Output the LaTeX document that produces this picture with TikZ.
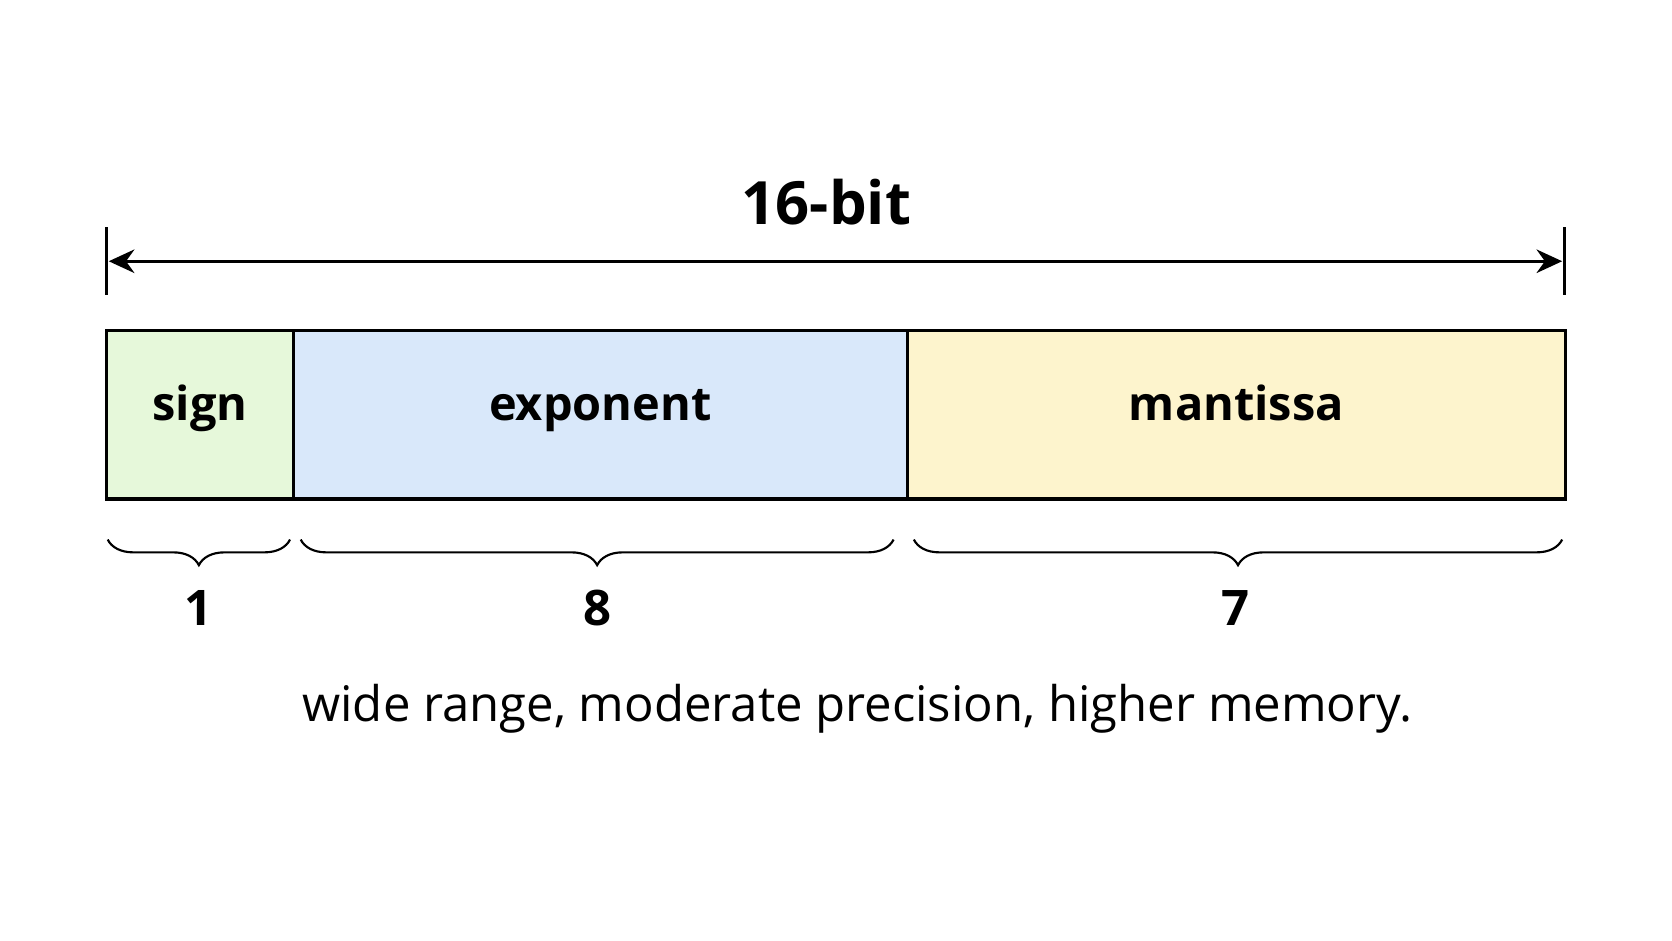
\documentclass[tikz,border=0pt]{standalone}
\usepackage{fontspec}
\setmainfont{Open Sans}
\usetikzlibrary{decorations.pathreplacing,arrows.meta}
\definecolor{sgn}{HTML}{E6F8DA}
\definecolor{expc}{HTML}{D9E8FA}
\definecolor{man}{HTML}{FDF4CD}
\begin{document}
\begin{tikzpicture}[x=1pt,y=-1pt,
  field/.style={draw=black,line width=3pt,minimum height=158pt,inner sep=0pt,text height=1.24em,text depth=0.1em,font=\fontsize{44}{50}\selectfont\bfseries},
  num/.style={font=\fontsize{46}{50}\selectfont\bfseries},
  br/.style={decorate,decoration={brace,amplitude=24pt,aspect=0.5},line width=2pt}]
\fill[white] (0,0) rectangle (1568,882);
\useasboundingbox (0,0) rectangle (1568,882);
\node[field,fill=sgn,minimum width=175pt] (s) at (187.5,389) {sign};
\node[field,fill=expc,minimum width=576pt] (e) at (563,389) {exponent};
\node[field,fill=man,minimum width=617pt] (m) at (1159.5,389) {mantissa};
\coordinate (tl1) at (100,213); \coordinate (tl2) at (100,277);
\coordinate (tr1) at (1467,213); \coordinate (tr2) at (1467,277);
\draw[line width=3pt] (tl1) -- (tl2);
\draw[line width=3pt] (tr1) -- (tr2);
\coordinate (al) at (102,245); \coordinate (ar) at (1465,245);
\draw[line width=3pt,{Stealth[length=24pt,width=22pt]}-{Stealth[length=24pt,width=22pt]}] (al) -- (ar);
\node[font=\fontsize{56}{64}\selectfont\bfseries] (t) at (775,190) {16-bit};
\coordinate (b1a) at (101,506); \coordinate (b1b) at (272,506);
\coordinate (b2a) at (282,506); \coordinate (b2b) at (838,506);
\coordinate (b3a) at (857,506); \coordinate (b3b) at (1465,506);
\draw[br] (b1b) -- (b1a);
\draw[br] (b2b) -- (b2a);
\draw[br] (b3b) -- (b3a);
\node[num] (n1) at (186,570) {1};
\node[num] (n8) at (560,570) {8};
\node[num] (n7) at (1159,570) {7};
\node[font=\fontsize{46}{52}\selectfont] (c) at (804,665) {wide range, moderate precision, higher memory.};
\end{tikzpicture}
\end{document}
